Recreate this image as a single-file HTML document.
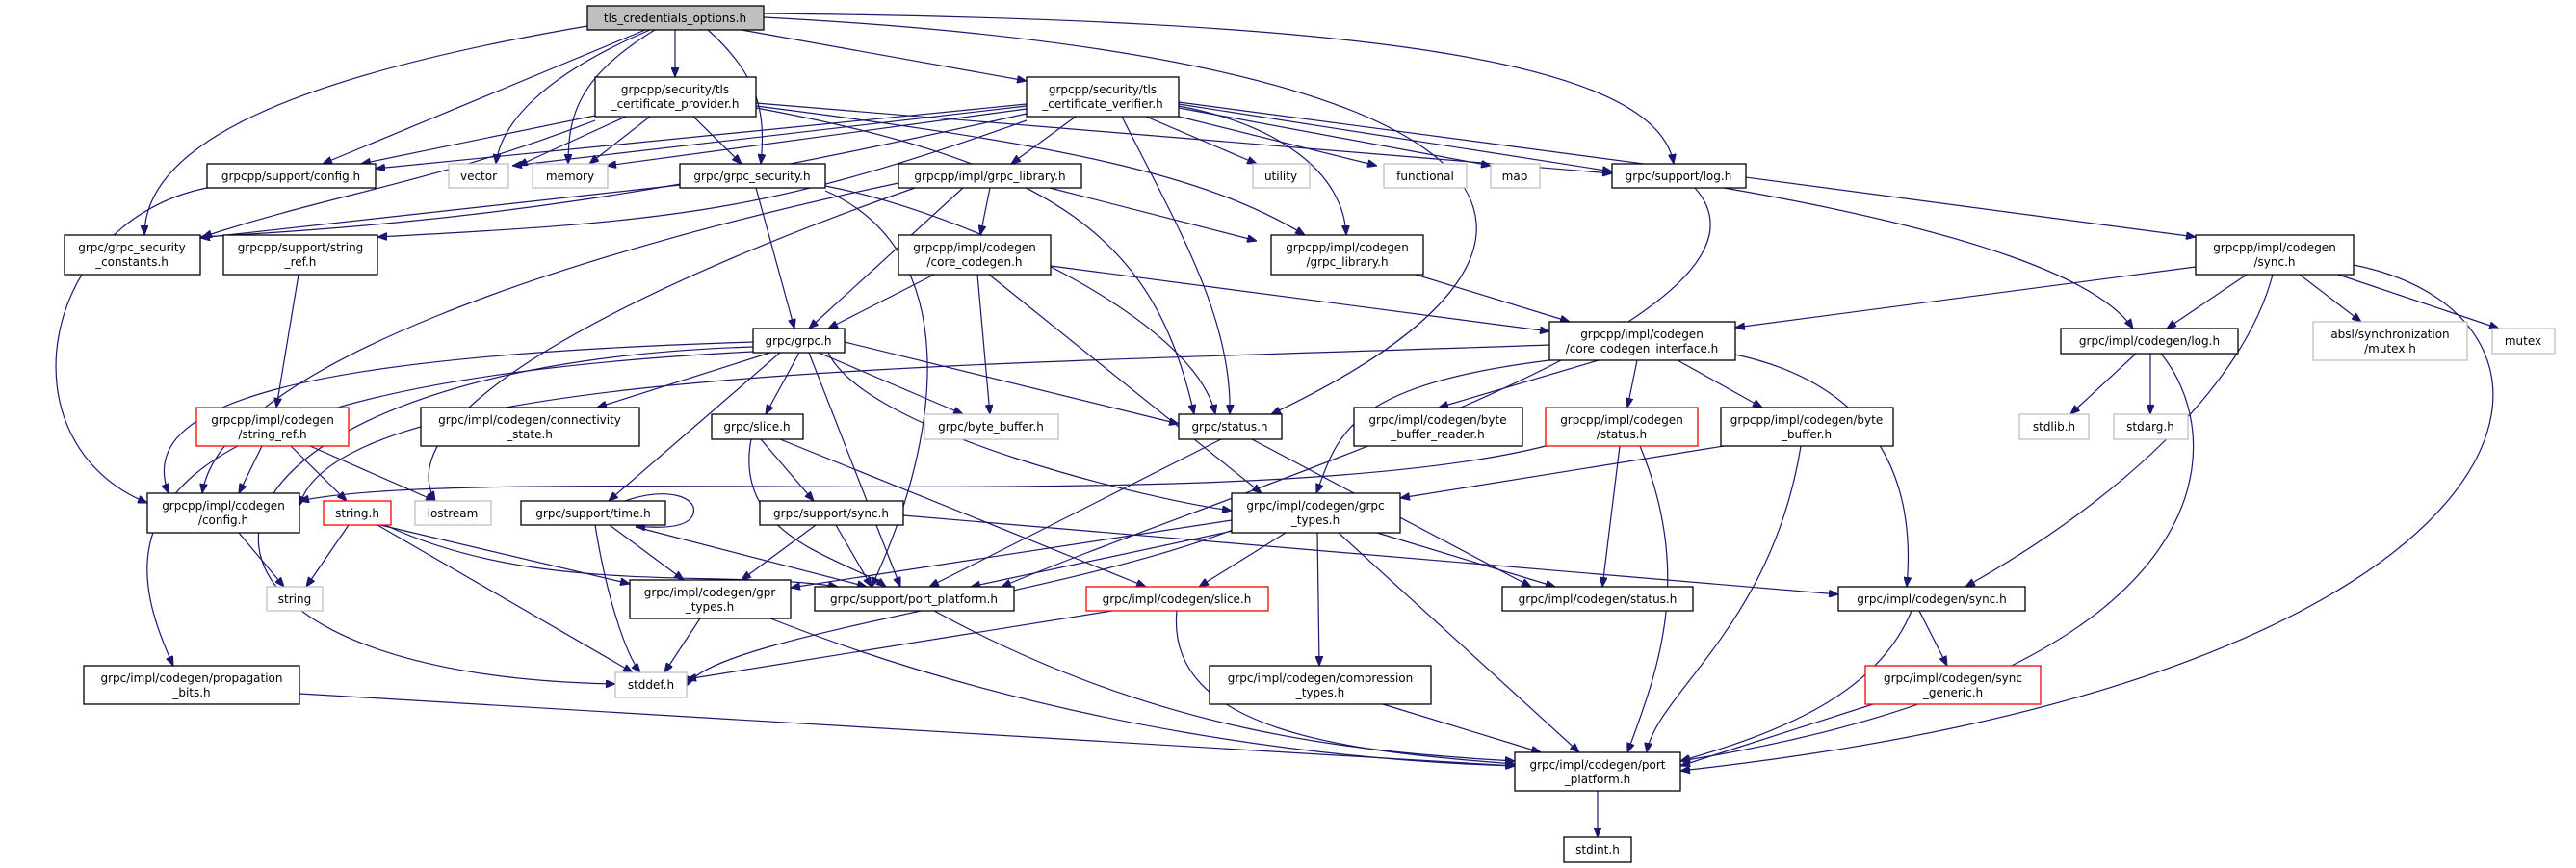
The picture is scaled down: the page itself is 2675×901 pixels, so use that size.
<!DOCTYPE html>
<html><head><meta charset="utf-8">
<style>
html,body{margin:0;padding:0;background:#fff;}
svg{display:block;}
text{font-family:"DejaVu Sans","Liberation Sans",sans-serif;font-size:12px;fill:#000;text-anchor:middle;}
</style></head>
<body>
<svg id="g" width="2675" height="901" viewBox="0 0 2675 901" xmlns="http://www.w3.org/2000/svg">
<defs>
<marker id="a" markerWidth="10" markerHeight="8" refX="10" refY="4" orient="auto" markerUnits="userSpaceOnUse">
<path d="M0,0 L10,4 L0,8 z" fill="#191970" stroke="#191970"/>
</marker>
</defs>
<g id="edges" fill="none" stroke="#191970" stroke-width="1.2"></g>
<g id="nodes" stroke-width="1.3">
<rect x="610" y="6" width="183" height="25" fill="#bfbfbf" stroke="#000"/><text x="701" y="23">tls_credentials_options.h</text>
<rect x="618" y="80" width="167" height="41" fill="#fff" stroke="#000"/><text x="701" y="97">grpcpp/security/tls</text><text x="701" y="112">_certificate_provider.h</text>
<rect x="1066" y="80" width="158" height="41" fill="#fff" stroke="#000"/><text x="1145" y="97">grpcpp/security/tls</text><text x="1145" y="112">_certificate_verifier.h</text>
<rect x="215" y="170" width="175" height="25" fill="#fff" stroke="#000"/><text x="302" y="187">grpcpp/support/config.h</text>
<rect x="466" y="170" width="62" height="25" fill="#fff" stroke="#bfbfbf"/><text x="497" y="187">vector</text>
<rect x="553" y="170" width="78" height="25" fill="#fff" stroke="#bfbfbf"/><text x="592" y="187">memory</text>
<rect x="706" y="170" width="151" height="25" fill="#fff" stroke="#000"/><text x="781" y="187">grpc/grpc_security.h</text>
<rect x="933" y="170" width="190" height="25" fill="#fff" stroke="#000"/><text x="1028" y="187">grpcpp/impl/grpc_library.h</text>
<rect x="1301" y="170" width="59" height="25" fill="#fff" stroke="#bfbfbf"/><text x="1330" y="187">utility</text>
<rect x="1437" y="170" width="86" height="25" fill="#fff" stroke="#bfbfbf"/><text x="1480" y="187">functional</text>
<rect x="1548" y="170" width="51" height="25" fill="#fff" stroke="#bfbfbf"/><text x="1573" y="187">map</text>
<rect x="1674" y="170" width="139" height="25" fill="#fff" stroke="#000"/><text x="1743" y="187">grpc/support/log.h</text>
<rect x="67" y="244" width="141" height="41" fill="#fff" stroke="#000"/><text x="137" y="261">grpc/grpc_security</text><text x="137" y="276">_constants.h</text>
<rect x="232" y="244" width="160" height="41" fill="#fff" stroke="#000"/><text x="312" y="261">grpcpp/support/string</text><text x="312" y="276">_ref.h</text>
<rect x="933" y="244" width="158" height="41" fill="#fff" stroke="#000"/><text x="1012" y="261">grpcpp/impl/codegen</text><text x="1012" y="276">/core_codegen.h</text>
<rect x="1320" y="244" width="158" height="41" fill="#fff" stroke="#000"/><text x="1399" y="261">grpcpp/impl/codegen</text><text x="1399" y="276">/grpc_library.h</text>
<rect x="2280" y="244" width="164" height="41" fill="#fff" stroke="#000"/><text x="2362" y="261">grpcpp/impl/codegen</text><text x="2362" y="276">/sync.h</text>
<rect x="782" y="341" width="95" height="25" fill="#fff" stroke="#000"/><text x="829" y="358">grpc/grpc.h</text>
<rect x="1609" y="334" width="193" height="40" fill="#fff" stroke="#000"/><text x="1705" y="351">grpcpp/impl/codegen</text><text x="1705" y="366">/core_codegen_interface.h</text>
<rect x="2140" y="341" width="184" height="26" fill="#fff" stroke="#000"/><text x="2232" y="358">grpc/impl/codegen/log.h</text>
<rect x="2402" y="334" width="160" height="40" fill="#fff" stroke="#bfbfbf"/><text x="2482" y="351">absl/synchronization</text><text x="2482" y="366">/mutex.h</text>
<rect x="2588" y="341" width="65" height="26" fill="#fff" stroke="#bfbfbf"/><text x="2620" y="358">mutex</text>
<rect x="204" y="423" width="158" height="40" fill="#fff" stroke="#ff0000"/><text x="283" y="440">grpcpp/impl/codegen</text><text x="283" y="455">/string_ref.h</text>
<rect x="437" y="423" width="227" height="40" fill="#fff" stroke="#000"/><text x="550" y="440">grpc/impl/codegen/connectivity</text><text x="550" y="455">_state.h</text>
<rect x="739" y="430" width="95" height="26" fill="#fff" stroke="#000"/><text x="786" y="447">grpc/slice.h</text>
<rect x="960" y="430" width="139" height="26" fill="#fff" stroke="#bfbfbf"/><text x="1029" y="447">grpc/byte_buffer.h</text>
<rect x="1224" y="430" width="107" height="26" fill="#fff" stroke="#000"/><text x="1277" y="447">grpc/status.h</text>
<rect x="1406" y="423" width="175" height="40" fill="#fff" stroke="#000"/><text x="1493" y="440">grpc/impl/codegen/byte</text><text x="1493" y="455">_buffer_reader.h</text>
<rect x="1605" y="423" width="158" height="40" fill="#fff" stroke="#ff0000"/><text x="1684" y="440">grpcpp/impl/codegen</text><text x="1684" y="455">/status.h</text>
<rect x="1787" y="423" width="179" height="40" fill="#fff" stroke="#000"/><text x="1876" y="440">grpcpp/impl/codegen/byte</text><text x="1876" y="455">_buffer.h</text>
<rect x="2097" y="430" width="72" height="26" fill="#fff" stroke="#bfbfbf"/><text x="2133" y="447">stdlib.h</text>
<rect x="2195" y="430" width="77" height="26" fill="#fff" stroke="#bfbfbf"/><text x="2233" y="447">stdarg.h</text>
<rect x="153" y="512" width="158" height="41" fill="#fff" stroke="#000"/><text x="232" y="529">grpcpp/impl/codegen</text><text x="232" y="544">/config.h</text>
<rect x="336" y="520" width="70" height="25" fill="#fff" stroke="#ff0000"/><text x="371" y="537">string.h</text>
<rect x="431" y="520" width="79" height="25" fill="#fff" stroke="#bfbfbf"/><text x="470" y="537">iostream</text>
<rect x="541" y="520" width="150" height="25" fill="#fff" stroke="#000"/><text x="616" y="537">grpc/support/time.h</text>
<rect x="789" y="520" width="149" height="25" fill="#fff" stroke="#000"/><text x="863" y="537">grpc/support/sync.h</text>
<rect x="1279" y="512" width="175" height="41" fill="#fff" stroke="#000"/><text x="1366" y="529">grpc/impl/codegen/grpc</text><text x="1366" y="544">_types.h</text>
<rect x="277" y="609" width="58" height="25" fill="#fff" stroke="#bfbfbf"/><text x="306" y="626">string</text>
<rect x="654" y="602" width="167" height="40" fill="#fff" stroke="#000"/><text x="737" y="619">grpc/impl/codegen/gpr</text><text x="737" y="634">_types.h</text>
<rect x="846" y="609" width="207" height="25" fill="#fff" stroke="#000"/><text x="949" y="626">grpc/support/port_platform.h</text>
<rect x="1128" y="609" width="189" height="25" fill="#fff" stroke="#ff0000"/><text x="1222" y="626">grpc/impl/codegen/slice.h</text>
<rect x="1560" y="609" width="198" height="25" fill="#fff" stroke="#000"/><text x="1659" y="626">grpc/impl/codegen/status.h</text>
<rect x="1909" y="609" width="194" height="25" fill="#fff" stroke="#000"/><text x="2006" y="626">grpc/impl/codegen/sync.h</text>
<rect x="87" y="691" width="224" height="40" fill="#fff" stroke="#000"/><text x="199" y="708">grpc/impl/codegen/propagation</text><text x="199" y="723">_bits.h</text>
<rect x="639" y="698" width="74" height="26" fill="#fff" stroke="#bfbfbf"/><text x="676" y="715">stddef.h</text>
<rect x="1256" y="691" width="230" height="40" fill="#fff" stroke="#000"/><text x="1371" y="708">grpc/impl/codegen/compression</text><text x="1371" y="723">_types.h</text>
<rect x="1937" y="691" width="182" height="40" fill="#fff" stroke="#ff0000"/><text x="2028" y="708">grpc/impl/codegen/sync</text><text x="2028" y="723">_generic.h</text>
<rect x="1573" y="781" width="172" height="40" fill="#fff" stroke="#000"/><text x="1659" y="798">grpc/impl/codegen/port</text><text x="1659" y="813">_platform.h</text>
<rect x="1624" y="869" width="70" height="26" fill="#fff" stroke="#000"/><text x="1659" y="886">stdint.h</text>
</g>
</svg>
<script>
var E=[
[701,31,701,80],[770,31,1066,84],
[793,14,1738,170,1400,20,1720,60],
[793,18,1320,430,1600,60,1700,250],
[735,31,790,170,790,80,795,120],
[670,31,335,170],[675,31,515,170,560,80,520,130],[680,31,590,170,600,80,590,120],
[610,27,150,244,300,80,150,150],
[618,120,375,170],[650,121,538,172],[675,121,612,170],[720,121,770,170],
[618,125,210,246,450,190,350,200],
[785,107,1674,180],[785,110,1355,244,1100,150,1250,180],[785,112,1240,430,1100,170,1200,250],
[1066,108,390,175],[1066,110,532,172],[1066,113,630,172],
[1066,118,208,246,700,200,500,230],[1066,125,392,246,800,220,700,230],
[1117,121,1050,170],[1190,121,1305,170],[1224,121,1430,172],[1224,112,1548,172],[1224,108,1674,178],
[1224,106,2280,246],[1224,110,1398,244,1330,130,1395,180],[1165,121,1277,430,1220,230,1280,330],
[706,192,208,247],[785,195,825,341],[857,193,1262,430,1000,220,1240,330],
[857,198,905,609,1000,260,980,450],
[215,195,153,522,40,230,0,460],
[310,285,287,423],
[1028,195,1018,244],[1090,195,1305,250],[1000,195,840,341],
[933,190,210,512,600,260,230,380],[950,195,452,520,650,300,400,430],
[970,285,860,341],[1091,276,1609,344],[1015,285,1028,430],[1027,285,1310,512],
[1470,285,1630,334],
[1790,195,2215,341,2050,240,2180,290],[1760,195,1040,609,1880,330,1300,500],
[2280,277,1802,340],[2333,285,2250,341],[2388,285,2452,334],[2428,285,2595,341],
[2360,285,2041,609,2330,400,2200,520],
[2444,275,1745,800,2720,330,2660,700],
[1609,358,311,525,1000,380,350,380],
[1660,374,1494,423],[1700,374,1690,423],[1742,374,1830,423],
[1609,374,1367,512,1400,400,1390,450],[1802,368,1980,609,1950,400,1990,500],
[2218,367,2150,430],[2233,367,2233,430],
[2244,367,1745,790,2320,460,2310,700],
[800,366,620,423],[830,366,795,430],[877,355,1224,440],[850,366,1000,430],
[810,366,632,520],[860,366,1279,530,900,450,1200,520],
[840,366,935,609],
[782,355,175,512,300,370,140,420],
[782,360,639,710,150,380,100,700],
[782,365,180,691,100,400,120,560],
[272,463,248,512],[302,463,360,520],[322,463,452,520],
[248,553,295,609],
[362,545,318,609],[392,545,657,698],[395,545,654,606],[400,545,870,609,560,620,750,590],
[618,545,665,698,630,620,650,680],[633,545,710,602],[660,547,900,609],
[847,545,770,602],[868,545,905,609],[938,535,1909,617],
[790,456,845,520],[780,456,920,609,760,560,880,580],[810,456,1190,609],
[1268,456,965,609],[1300,456,1590,609],
[1605,463,311,520,1300,540,500,480],[1682,463,1664,609],[1703,463,1690,781,1760,600,1720,700],
[1790,463,1454,517],[1870,463,1710,781,1840,650,1720,720],
[1279,540,821,610],[1285,550,1008,609],[1335,553,1245,609],[1368,553,1370,691],
[1430,553,1615,609],[1390,553,1640,781],[1280,550,713,712,1100,620,740,660],
[727,642,690,698],[800,642,1573,795,1100,760,1400,790],
[970,634,1573,790,1200,760,1400,780],
[1155,634,713,705],[1222,634,1573,793,1210,760,1400,780],
[1436,731,1600,781],
[311,720,1573,795],
[1993,634,2022,691],[1985,634,1745,790,1950,720,1850,760],
[1945,731,1745,795],
[1659,821,1659,869]
];
var g=document.getElementById('edges'),s='';
E.forEach(function(e){
 var d;
 if(e.length>4) d='M'+e[0]+','+e[1]+' C'+e[4]+','+e[5]+' '+e[6]+','+e[7]+' '+e[2]+','+e[3];
 else d='M'+e[0]+','+e[1]+' L'+e[2]+','+e[3];
 s+='<path d="'+d+'" marker-end="url(#a)"/>';
});
s+='<path d="M649,520 C690,505 725,515 720,533 C715,550 680,548 660,546" marker-end="url(#a)"/>';
g.innerHTML=s;
</script>
</body></html>
